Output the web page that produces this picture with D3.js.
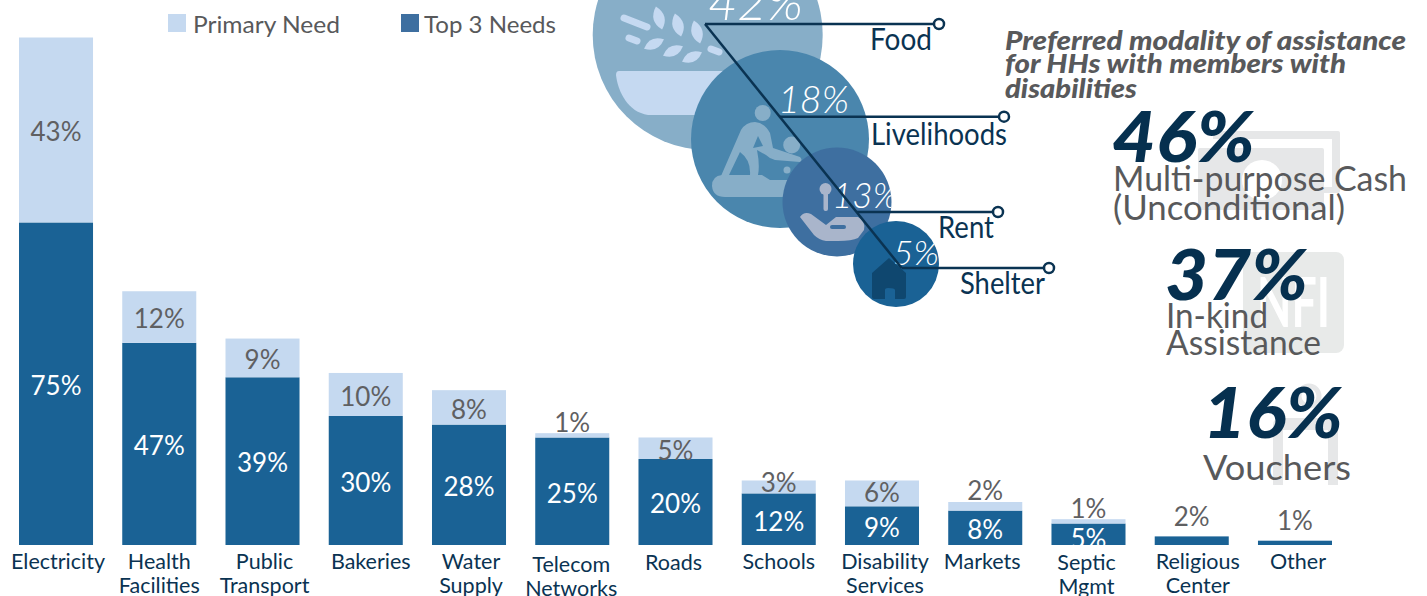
<!DOCTYPE html>
<html><head><meta charset="utf-8">
<script src="https://cdn.jsdelivr.net/npm/d3@7"></script>
<style>html,body{margin:0;padding:0;background:#fff;overflow:hidden}svg{display:block}text{font-family:Lato,"Open Sans",sans-serif}</style>
</head><body><svg id="c" width="1427" height="596"></svg>
<script>
// ---------- data ----------
const categories = ["Electricity","Health Facilities","Public Transport","Bakeries","Water Supply","Telecom Networks","Roads","Schools","Disability Services","Markets","Septic Mgmt","Religious Center","Other"];
const top3Needs   = [75,47,39,30,28,25,20,12,9,8,5,2,1];
const primaryNeed = [43,12,9,10,8,1,5,3,6,2,1,0,0];
const sectors       = ["Food","Livelihoods","Rent","Shelter"];
const sectorValues  = [42,18,13,5];
const modalities    = ["Multi-purpose Cash|(Unconditional)","In-kind|Assistance","Vouchers"];
const modalityValues= [46,37,16];
const legendLabels  = ["Primary Need","Top 3 Needs"];
const modalityTitle = ["Preferred modality of assistance","for HHs with members with","disabilities"];

// ---------- layout / style ----------
const LIGHT="#c5d9f0", DARK="#1a6295", INK="#0a3352", GREY="#58595b", LABEL="#5f6062", WASH="#e6e7e8";
const svg=d3.select("#c");
const defs=svg.append("defs");

const x=d3.scaleBand().domain(categories).range([19,1332]).paddingInner(0.283).paddingOuter(0);
const y=d3.scaleLinear().domain([0,118]).range([545,37.5]);

function fit(sel,w){ sel.attr("textLength",w).attr("lengthAdjust","spacingAndGlyphs"); return sel; }

// ---- legend
const leg=svg.append("g");
[[168,193,147,LIGHT],[401,424,132,"#3e6fa0"]].forEach((d,i)=>{
  leg.append("rect").attr("x",d[0]).attr("y",14).attr("width",18).attr("height",18).attr("fill",d[3]);
  fit(leg.append("text").attr("x",d[1]).attr("y",33).attr("font-size",23).attr("fill",GREY).text(legendLabels[i]),d[2]);
});

// ---- bars
const bars=svg.append("g");
const rows=categories.map((c,i)=>({c,t:top3Needs[i],p:primaryNeed[i]}));
bars.selectAll("rect.t").data(rows).join("rect").attr("class","t")
  .attr("x",d=>x(d.c)).attr("width",x.bandwidth()).attr("y",d=>y(d.t)).attr("height",d=>y(0)-y(d.t)).attr("fill",DARK);
bars.selectAll("rect.p").data(rows.filter(d=>d.p>0)).join("rect").attr("class","p")
  .attr("x",d=>x(d.c)).attr("width",x.bandwidth()).attr("y",d=>y(d.t+d.p)).attr("height",d=>y(d.t)-y(d.t+d.p)).attr("fill",LIGHT);

defs.append("clipPath").attr("id","base").append("rect").attr("x",0).attr("y",0).attr("width",1427).attr("height",545);
const vl=svg.append("g").attr("text-anchor","middle").attr("font-size",26).attr("clip-path","url(#base)");
function topLabelY(d){
  const cy=(y(d.t)+y(0))/2, h=y(0)-y(d.t);
  if(h<12) return y(d.t)-20;
  if(h<30) return cy+4;
  return cy+2;
}
function priLabelY(d){
  const top=y(d.t+d.p), h=y(d.t)-top;
  if(h<10) return top-11;
  if(h<15) return top+2;
  if(h<24) return top+h/2+2;
  if(h<30) return top+h/2-1;
  return top+h/2+2;
}
vl.selectAll("text.t").data(rows).join("text").attr("class","t")
  .attr("x",d=>x(d.c)+x.bandwidth()/2).attr("y",topLabelY).attr("dy","0.36em")
  .attr("fill",d=>(y(0)-y(d.t))<12?LABEL:"#fff").text(d=>d.t+"%");
vl.selectAll("text.p").data(rows.filter(d=>d.p>0)).join("text").attr("class","p")
  .attr("x",d=>x(d.c)+x.bandwidth()/2).attr("y",priLabelY).attr("dy","0.36em")
  .attr("fill",LABEL).text(d=>d.p+"%");

// ---- category axis
const tickNudge=[2,0,2,5,2,-1,-2,0,3,-3,-2,6,3];
const tickDrop =[0,0,0,0,0,3,1,0,0,0,1,0,0];
const axis=svg.append("g").attr("transform","translate(0,545)").call(d3.axisBottom(x).tickSize(0).tickPadding(0));
axis.select(".domain").remove();
axis.selectAll(".tick text").each(function(c){
  const i=categories.indexOf(c), t=d3.select(this);
  t.text(null).attr("font-size",21.5).attr("fill",INK).attr("y",0).attr("dy",null)
   .style("font-family","Lato,sans-serif").attr("text-anchor","middle");
  c.split(" ").forEach((w,k)=>t.append("tspan").attr("x",tickNudge[i]).attr("y",24+tickDrop[i]+k*24).text(w));
});

// ---- bubbles
const bx=d3.scaleOrdinal().domain(sectors).range([707.7,780,837,896]);
const by=d3.scaleOrdinal().domain(sectors).range([35,139,202,264]);
const br=d3.scaleLinear().domain([5,13,18,42]).range([43,54.5,89,115]);
const bubbleFill=d3.scaleOrdinal().domain(sectors).range(["#87aec8","#4a86ad","#3e6fa0","#1a6295"]);
const bub=svg.append("g");
function circ(i){ bub.append("circle").attr("cx",bx(sectors[i])).attr("cy",by(sectors[i])).attr("r",br(sectorValues[i])).attr("fill",bubbleFill(sectors[i])); }
sectors.forEach((s,i)=>defs.append("clipPath").attr("id","cl"+i).append("circle").attr("cx",bx(s)).attr("cy",by(s)).attr("r",br(sectorValues[i])));

// food icon
circ(0);
const fi=bub.append("g").attr("fill","#c5d9f1");
fi.append("path").attr("d","M619,71 H810 V100 L790,115 H648 C628,112 618,92 616,75 Q616,71 619,71Z");
const leaf=(cx,cy,l,wd,a)=>fi.append("path").attr("d",`M${-l},0 Q0,${-wd*1.7} ${l},0 Q0,${wd*1.7} ${-l},0Z`).attr("transform",`translate(${cx} ${cy}) rotate(${a})`);
[[659,18,12,6.5,75],[678,25,12,6.5,75],[697,32,12,6.5,75],[654,44,11,6,-25],[673,51,11,6,-25],[692,57,11,6,-25]].forEach(d=>leaf(...d));
const stem=(a,b,c,d)=>fi.append("line").attr("x1",a).attr("y1",b).attr("x2",c).attr("y2",d).attr("stroke","#c5d9f1").attr("stroke-width",7).attr("stroke-linecap","round");
stem(624,18,647,27); stem(629,38,637,41); stem(711,49,719,52);

// livelihoods icon
circ(1);
const li=bub.append("g").attr("fill","#87aec8");
li.append("circle").attr("cx",762.7).attr("cy",113).attr("r",8);
li.append("circle").attr("cx",791.7).attr("cy",145).attr("r",8.5);
li.append("circle").attr("cx",787).attr("cy",170).attr("r",3.5);
li.append("path").attr("d","M712,186 Q712,176 722,175 L762,175 L770,180 H792 V197 H725 Q713,197 712,186Z");
li.append("path").attr("d","M721,176 L741,130 Q746,122 755,122 Q765,123 770,133 L773,148 L800,157 Q803,160 800,162 L775,160 Q770,159 766,155 L757,150 Q760,165 758,175 H750 Q751,160 740,152 L729,175Z");
bub.append("path").attr("fill","#4a86ad").attr("d","M758,136 L753,148 L763,146Z");

// rent icon
circ(2);
const ri=bub.append("g").attr("fill","#a9b5cb");
ri.append("circle").attr("cx",825.5).attr("cy",189).attr("r",6);
ri.append("rect").attr("x",823.5).attr("y",190).attr("width",4.5).attr("height",21).attr("rx",2);
ri.append("path").attr("d","M800,217 Q804,211 811,214 L826,225 L836,217 H858 Q866,221 864,230 L858,238 Q852,241 838,241 H826 Q819,240 814,235Z");
bub.append("rect").attr("x",830).attr("y",225).attr("width",16).attr("height",4).attr("fill","#3e6fa0").attr("rx",2);

// shelter icon
circ(3);
bub.append("path").attr("fill","#0f476f").attr("d","M872,273 L889,258 L906,273 V297 Q906,299 904,299 H895 V290 Q895,288 888,288 Q885,288 885,290 V299 H874 Q872,299 872,297Z");

// bubble percentages
const pct=[[708,20,95,50],[778,113,71,38],[832,208,66,36],[893,265,46,34]];
sectors.forEach((s,i)=>{
  fit(svg.append("text").attr("clip-path","url(#cl"+i+")").attr("x",pct[i][0]).attr("y",pct[i][1]).attr("font-size",pct[i][3])
    .attr("font-style","italic").attr("font-weight",300).attr("fill","#fff").text(sectorValues[i]+"%"),pct[i][2]);
});

// leader lines
const lines=[[705,24,939],[779,116.7,1004],[857,212,998],[901.7,268,1049]];
const lead=svg.append("g").attr("stroke",INK).attr("fill","#fff");
lead.append("line").attr("x1",705).attr("y1",24).attr("x2",901.7).attr("y2",268).attr("stroke-width",2.5);
lines.forEach(d=>{
  lead.append("line").attr("x1",d[0]).attr("y1",d[1]).attr("x2",d[2]).attr("y2",d[1]).attr("stroke-width",2.5);
  lead.append("circle").attr("cx",d[2]).attr("cy",d[1]).attr("r",5).attr("stroke-width",2.5);
});
const nameBox=[[870,50,62],[871,145,136],[938,238,56],[960,294,85]];
sectors.forEach((s,i)=>fit(svg.append("text").attr("x",nameBox[i][0]).attr("y",nameBox[i][1]).attr("font-size",31).attr("fill",INK).text(s),nameBox[i][2]));

// ---- right panel: wash icons
const w=svg.append("g").attr("fill",WASH);
w.append("rect").attr("x",1213).attr("y",131).attr("width",127).attr("height",62).attr("rx",2);
w.append("rect").attr("x",1206).attr("y",139).attr("width",126).attr("height",48).attr("fill","#fff");
w.append("rect").attr("x",1198).attr("y",148).attr("width",126).attr("height",62).attr("rx",2);
w.append("circle").attr("cx",1262).attr("cy",180).attr("r",20).attr("fill","#fff");
w.append("rect").attr("x",1243).attr("y",252).attr("width",101).attr("height",101).attr("rx",8).attr("fill","#e8eae9");
fit(svg.append("text").attr("x",1257).attr("y",327).attr("font-size",68).attr("font-weight",700).attr("fill","#fff").text("NFI"),73);
const v=svg.append("g").attr("fill",WASH);
v.append("circle").attr("cx",1309).attr("cy",396).attr("r",10).attr("fill","none").attr("stroke",WASH).attr("stroke-width",5);
v.append("path").attr("d","M1273,425 Q1273,418 1281,418 H1330 Q1338,418 1338,425 V485 H1328 V430 H1283 V485 H1273Z");

// ---- right panel: text
const tb=[401,341,132], tyy=[50,73,98];
modalityTitle.forEach((t,i)=>fit(svg.append("text").attr("x",1005).attr("y",tyy[i]).attr("font-size",27).attr("font-style","italic").attr("font-weight",900).attr("fill",GREY).text(t),tb[i]));
const mod=[
 {x:1112,y:162,w:143,l:[[1113,191,294],[1113,220,232]]},
 {x:1165,y:300,w:143,l:[[1166,328,102],[1166,355,155]]},
 {x:1203,y:438,w:140,l:[[1203,480,148]]}];
modalities.forEach((m,i)=>{
  fit(svg.append("text").attr("x",mod[i].x).attr("y",mod[i].y).attr("font-size",71).attr("font-style","italic").attr("font-weight",900).attr("fill","#06304f").text(modalityValues[i]+"%"),mod[i].w);
  m.split("|").forEach((t,k)=>{
    const b=mod[i].l[k];
    fit(svg.append("text").attr("x",b[0]).attr("y",b[1]).attr("font-size",34).attr("fill",GREY).text(t),b[2]);
  });
});
</script></body></html>
